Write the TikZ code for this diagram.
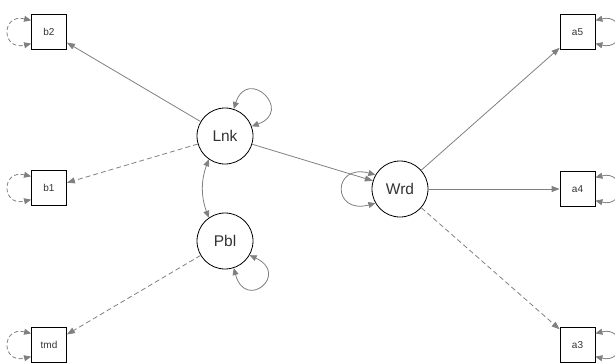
\documentclass[tikz,border=0pt]{standalone}
\usepackage{fontspec}
\setmainfont{Liberation Sans}
\usetikzlibrary{arrows.meta}
\definecolor{edgegray}{HTML}{808080}
\definecolor{txtgray}{HTML}{333333}
\tikzset{
  manifest/.style={draw=black, line width=0.8pt, minimum width=35pt, minimum height=35pt, inner sep=0pt, font=\fontsize{10}{10}\selectfont, text=txtgray},
  latent/.style={draw=black, line width=0.8pt, circle, minimum size=56pt, inner sep=0pt, font=\fontsize{15.5}{16}\selectfont, text=txtgray},
  edge/.style={draw=edgegray, line width=0.8pt, -{Triangle[length=8pt,width=6pt]}, color=edgegray},
  dedge/.style={edge, dash pattern=on 5pt off 3pt},
  varloop/.style={draw=edgegray, line width=0.8pt, {Triangle[length=7pt,width=6pt]}-{Triangle[length=7pt,width=6pt]}, color=edgegray},
  dvarloop/.style={varloop, dash pattern=on 4pt off 2.5pt},
}
\begin{document}
\begin{tikzpicture}[x=1pt,y=1pt]
\useasboundingbox (0,0) rectangle (615,-362);
% latent nodes
\node[latent] (Lnk) at (225,-136) {Lnk};
\node[latent] (Pbl) at (225,-241) {Pbl};
\node[latent] (Wrd) at (400,-189) {Wrd};
% manifest nodes
\node[manifest] (b2) at (49,-32) {b2};
\node[manifest] (b1) at (49,-188) {b1};
\node[manifest] (tmd) at (49,-345) {tmd};
\node[manifest] (a5) at (577.5,-32) {a5};
\node[manifest] (a4) at (577.5,-189) {a4};
\node[manifest] (a3) at (577.5,-345) {a3};
% loadings
\draw[edge] (Lnk) -- (b2);
\draw[dedge] (Lnk) -- (b1);
\draw[dedge] (Pbl) -- (tmd);
\draw[edge] (Lnk) -- (Wrd);
\draw[edge] (Wrd) -- (a5);
\draw[edge] (Wrd) -- (a4);
\draw[dedge] (Wrd) -- (a3);
% covariance
\draw[varloop] (Lnk.235) to[bend right=20] (Pbl.125);
% latent variances
\draw[varloop] (Lnk.72) .. controls +(72:45) and +(20:45) .. (Lnk.20);
\draw[varloop] (Wrd.150) .. controls +(165:45) and +(195:45) .. (Wrd.210);
\draw[varloop] (Pbl.-30) .. controls +(-25:45) and +(-75:45) .. (Pbl.-72);
% residual variances
\draw[dvarloop] (b2.147) .. controls +(-30,7) and +(-30,-7) .. (b2.213);
\draw[dvarloop] (b1.147) .. controls +(-30,7) and +(-30,-7) .. (b1.213);
\draw[dvarloop] (tmd.147) .. controls +(-30,7) and +(-30,-7) .. (tmd.213);
\draw[varloop] (a5.33) .. controls +(30,7) and +(30,-7) .. (a5.-33);
\draw[varloop] (a4.33) .. controls +(30,7) and +(30,-7) .. (a4.-33);
\draw[varloop] (a3.33) .. controls +(30,7) and +(30,-7) .. (a3.-33);
\end{tikzpicture}
\end{document}
